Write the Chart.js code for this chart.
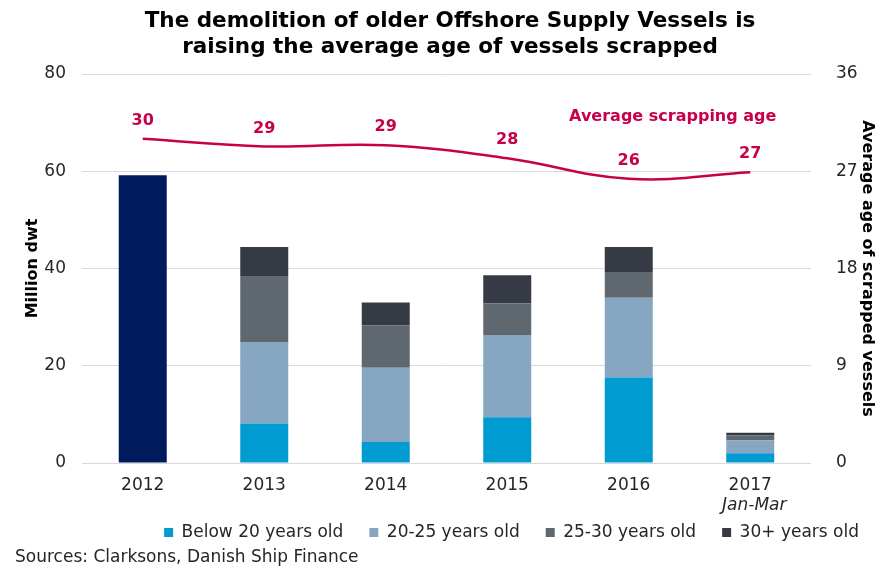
<!DOCTYPE html>
<html>
<head>
<meta charset="utf-8">
<script src="https://cdn.jsdelivr.net/npm/chart.js@4.4.1/dist/chart.umd.min.js"></script>
<style>
  body { margin: 0; background: #fff; }
  #wrap { width: 885px; height: 568px; position: relative; }
</style>
</head>
<body>
<div id="wrap"><canvas id="canvas"></canvas></div>
<script>
// years on the x axis
const anos = ['2012', '2013', '2014', '2015', '2016', '2017'];

// million dwt scrapped, by age group (2012 only total available)
const total2012 = [59.2, null, null, null, null, null];
const abaixo20 = [null, 8.1, 4.3, 9.4, 17.6, 2.0];
const de20a25 = [null, 16.8, 15.3, 16.9, 16.4, 2.7];
const de25a30 = [null, 13.4, 8.7, 6.5, 5.3, 1.0];
const acima30 = [null, 6.1, 4.7, 5.8, 5.1, 0.5];

// average scrapping age (years)
const idadeMedia = [30.0, 29.3, 29.4, 28.2, 26.3, 26.9];

const yTicks = [0, 20, 40, 60, 80];
const y1Ticks = [0, 9, 18, 27, 36];

const vermelho = '#C8004B';
const fonte = 'DejaVu Sans';

// labels on the line + annotation + "Jan-Mar"
const extras = {
    id: 'extras',
    afterDatasetsDraw(chart) {
        let ctx = chart.ctx;
        let meta = chart.getDatasetMeta(5);
        ctx.save();
        ctx.fillStyle = vermelho;
        ctx.font = 'bold 16px ' + fonte;
        ctx.textAlign = 'center';
        ctx.textBaseline = 'middle';
        meta.data.forEach(function (pt, i) {
            ctx.fillText(Math.round(idadeMedia[i]), pt.x, pt.y - 18);
        });
        let x = chart.scales.x;
        let y1 = chart.scales.y1;
        ctx.fillText('Average scrapping age', x.getPixelForValue(4) + 44, y1.getPixelForValue(32));
        ctx.fillStyle = '#262626';
        ctx.font = 'italic 17px ' + fonte;
        ctx.fillText('Jan-Mar', x.getPixelForValue(5) + 4, chart.chartArea.bottom + 43);
        ctx.restore();
    }
};

function grafico() {
    let ctx = document.getElementById('canvas').getContext('2d');
    new Chart(ctx, {
        type: 'bar',
        data: {
            labels: anos,
            datasets: [
                { label: 'Total', data: total2012, backgroundColor: '#001A5E', order: 1 },
                { label: 'Below 20 years old', data: abaixo20, backgroundColor: '#009CD1', order: 1 },
                { label: '20-25 years old', data: de20a25, backgroundColor: '#86A6C1', order: 1 },
                { label: '25-30 years old', data: de25a30, backgroundColor: '#5F676F', order: 1 },
                { label: '30+ years old', data: acima30, backgroundColor: '#363A45', order: 1 },
                {
                    type: 'line',
                    label: 'Average scrapping age',
                    data: idadeMedia,
                    yAxisID: 'y1',
                    borderColor: vermelho,
                    borderWidth: 2.5,
                    pointRadius: 0,
                    tension: 0.4,
                    order: 0
                }
            ]
        },
        options: {
            responsive: true,
            maintainAspectRatio: false,
            animation: false,
            layout: { padding: { left: 15, right: 0, top: 0, bottom: 0 } },
            datasets: {
                bar: { barPercentage: 0.395, categoryPercentage: 1 }
            },
            plugins: {
                title: {
                    display: true,
                    text: ['The demolition of older Offshore Supply Vessels is', 'raising the average age of vessels scrapped'],
                    color: '#000',
                    font: { family: fonte, size: 21.5, weight: 'bold', lineHeight: 1.2 },
                    padding: { top: 9, bottom: 13.4 }
                },
                subtitle: {
                    display: true,
                    position: 'bottom',
                    align: 'start',
                    text: 'Sources: Clarksons, Danish Ship Finance',
                    color: '#262626',
                    font: { family: fonte, size: 17, lineHeight: 1 },
                    padding: { top: 0, bottom: 2 }
                },
                legend: {
                    position: 'bottom',
                    align: 'end',
                    maxHeight: 51,
                    labels: {
                        color: '#262626',
                        font: { family: fonte, size: 17 },
                        boxWidth: 9,
                        boxHeight: 9,
                        padding: 26,
                        filter: function (item) {
                            return item.datasetIndex >= 1 && item.datasetIndex <= 4;
                        }
                    }
                },
                tooltip: { enabled: false }
            },
            scales: {
                x: {
                    stacked: true,
                    afterFit: function (s) { s.height = 35; },
                    grid: { display: false, drawTicks: false },
                    border: { display: false },
                    ticks: { color: '#262626', font: { family: fonte, size: 17 }, padding: 12.8 }
                },
                y: {
                    stacked: true,
                    min: 0,
                    max: 80,
                    afterFit: function (s) { s.width = 67; },
                    afterBuildTicks: function (s) { s.ticks = yTicks.map(v => ({ value: v })); },
                    grid: { color: '#D9D9D9', drawTicks: false },
                    border: { display: false },
                    ticks: { color: '#262626', font: { family: fonte, size: 17 }, padding: 16 },
                    title: {
                        display: true,
                        text: 'Million dwt',
                        color: '#000',
                        font: { family: fonte, size: 16, weight: 'bold' },
                        padding: { top: 8.4, bottom: 0 }
                    }
                },
                y1: {
                    position: 'right',
                    min: 0,
                    max: 36,
                    afterFit: function (s) { s.width = 74; },
                    afterBuildTicks: function (s) { s.ticks = y1Ticks.map(v => ({ value: v })); },
                    grid: { display: false },
                    border: { display: false },
                    ticks: { color: '#262626', font: { family: fonte, size: 17 }, padding: 17 },
                    title: {
                        display: true,
                        text: 'Average age of scrapped vessels',
                        color: '#000',
                        font: { family: fonte, size: 16, weight: 'bold' },
                        padding: { top: 8.4, bottom: 0 }
                    }
                }
            }
        },
        plugins: [extras]
    });
}

grafico();
</script>
</body>
</html>
